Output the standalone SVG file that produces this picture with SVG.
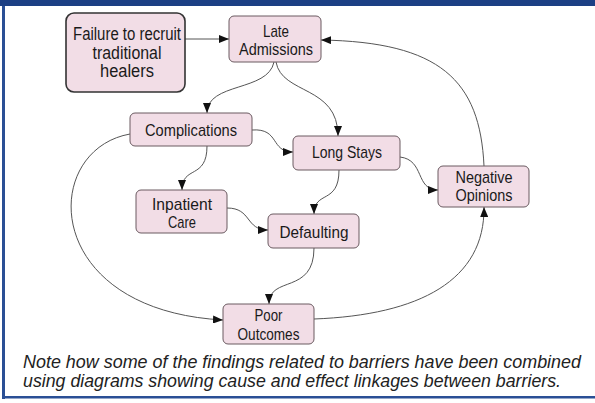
<svg xmlns="http://www.w3.org/2000/svg" width="595" height="403" viewBox="0 0 595 403">
<style>
.node rect{fill:#f2dde6;stroke:#6a5a60;stroke-width:1}
.node text{font-family:"Liberation Sans",Arial,sans-serif;font-size:17px;fill:#1a1a1a;text-anchor:middle}
#failure rect{stroke:#333;stroke-width:1.6}
#failure text{font-size:17.5px}
.edges path{fill:none;stroke:#555;stroke-width:1;marker-end:url(#arr)}
.cap{font-family:"Liberation Sans",Arial,sans-serif;font-size:17.5px;font-style:italic;fill:#222}
</style>
<defs>
<marker id="arr" markerUnits="userSpaceOnUse" markerWidth="11" markerHeight="8" refX="10" refY="4" orient="auto">
<path d="M0,0 L10,4 L0,8 z" fill="#111"/>
</marker>
</defs>
<rect x="0" y="0" width="595" height="403" fill="#fff"/>
<rect x="0" y="0" width="595" height="6" fill="#1c3f84"/>
<rect x="2" y="6" width="3" height="393" fill="#2a4f95"/>
<rect x="2" y="396" width="593" height="2.5" fill="#2a4f95"/>

<g class="edges">
<path d="M185,39 L229,39"/>
<path d="M484,166 C480,80 440,42 321,40"/>
<path d="M274,62 C268,92 207,82 207,113"/>
<path d="M276,62 C282,95 338,85 338,136"/>
<path d="M252,130 C280,128 270,152 293,152"/>
<path d="M207,146 C207,180 182,165 182,190"/>
<path d="M227,208 C252,208 245,230 268,230"/>
<path d="M339,170 C339,205 314,190 314,214"/>
<path d="M400,157 C425,160 415,190 438,190"/>
<path d="M314,248 C314,295 269,275 269,304"/>
<path d="M130,134 C40,150 40,310 223,320"/>
<path d="M314,319 C420,315 485,280 484,207"/>
</g>

<g id="failure" class="node">
<rect x="66" y="13" width="119" height="79" rx="8"/>
<text x="127" y="40" textLength="108" lengthAdjust="spacingAndGlyphs">Failure to recruit</text>
<text x="127" y="58.5" textLength="69" lengthAdjust="spacingAndGlyphs">traditional</text>
<text x="127" y="77" textLength="54" lengthAdjust="spacingAndGlyphs">healers</text>
</g>
<g id="late" class="node">
<rect x="229" y="16" width="92" height="46" rx="5"/>
<text x="276" y="36.5" textLength="26" lengthAdjust="spacingAndGlyphs">Late</text>
<text x="276" y="55" textLength="74" lengthAdjust="spacingAndGlyphs">Admissions</text>
</g>
<g id="complications" class="node">
<rect x="130" y="113" width="122" height="33" rx="5"/>
<text x="191" y="136" textLength="92" lengthAdjust="spacingAndGlyphs">Complications</text>
</g>
<g id="longstays" class="node">
<rect x="293" y="136" width="107" height="34" rx="5"/>
<text x="347" y="158" textLength="70" lengthAdjust="spacingAndGlyphs">Long Stays</text>
</g>
<g id="negative" class="node">
<rect x="438" y="166" width="91" height="41" rx="5"/>
<text x="484" y="183" textLength="57" lengthAdjust="spacingAndGlyphs">Negative</text>
<text x="484" y="201" textLength="57" lengthAdjust="spacingAndGlyphs">Opinions</text>
</g>
<g id="inpatient" class="node">
<rect x="136" y="190" width="91" height="43" rx="5"/>
<text x="182" y="209.5" textLength="60" lengthAdjust="spacingAndGlyphs">Inpatient</text>
<text x="182" y="228" textLength="28" lengthAdjust="spacingAndGlyphs">Care</text>
</g>
<g id="defaulting" class="node">
<rect x="268" y="214" width="91" height="34" rx="5"/>
<text x="314" y="237.5" textLength="69" lengthAdjust="spacingAndGlyphs">Defaulting</text>
</g>
<g id="poor" class="node">
<rect x="223" y="304" width="91" height="40" rx="5"/>
<text x="268.5" y="321" textLength="28" lengthAdjust="spacingAndGlyphs">Poor</text>
<text x="268.5" y="339.5" textLength="62" lengthAdjust="spacingAndGlyphs">Outcomes</text>
</g>

<text class="cap" x="23" y="368" textLength="558" lengthAdjust="spacingAndGlyphs">Note how some of the findings related to barriers have been combined</text>
<text class="cap" x="23" y="387" textLength="538" lengthAdjust="spacingAndGlyphs">using diagrams showing cause and effect linkages between barriers.</text>
</svg>
